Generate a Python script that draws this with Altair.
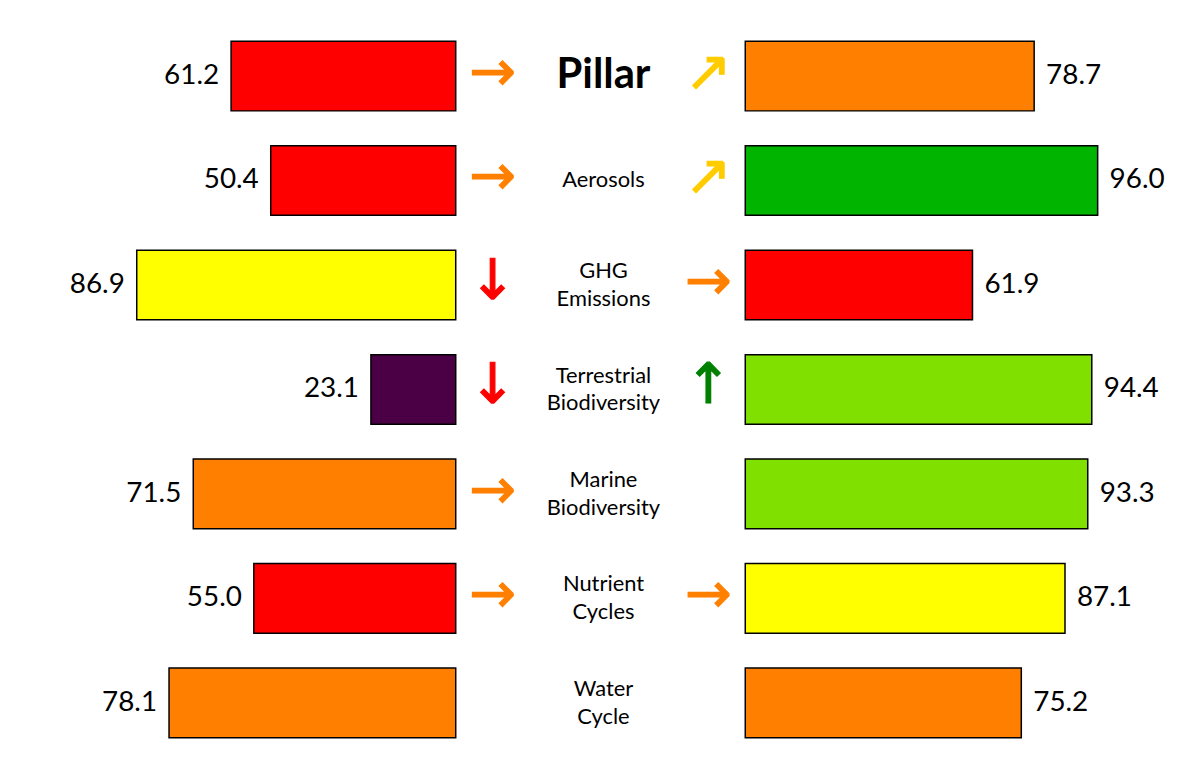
import altair as alt
import pandas as pd

categories = ["Pillar", "Aerosols", "GHG Emissions", "Terrestrial Biodiversity",
              "Marine Biodiversity", "Nutrient Cycles", "Water Cycle"]
display_labels = ["Pillar", "Aerosols", "GHG\nEmissions", "Terrestrial\nBiodiversity",
                  "Marine\nBiodiversity", "Nutrient\nCycles", "Water\nCycle"]

left_values = [61.2, 50.4, 86.9, 23.1, 71.5, 55.0, 78.1]
left_colors = ["#FF0000", "#FF0000", "#FFFF00", "#4B0046", "#FF8000", "#FF0000", "#FF8000"]
right_values = [78.7, 96.0, 61.9, 94.4, 93.3, 87.1, 75.2]
right_colors = ["#FF8000", "#00B400", "#FF0000", "#80E000", "#80E000", "#FFFF00", "#FF8000"]

left_arrows = ["→", "→", "↓", "↓", "→", "→", ""]
left_arrow_colors = ["#FF8000", "#FF8000", "#FF0000", "#FF0000", "#FF8000", "#FF8000", "#FF8000"]
right_arrows = ["↗", "↗", "→", "↑", "", "→", ""]
right_arrow_colors = ["#FFCC00", "#FFCC00", "#FF8000", "#008000", "#FF8000", "#FF8000", "#FF8000"]

FONT = "Lato"
XMAX = 121.7
PANEL_W = 449
CENTER_W = 289
H = 735

left_df = pd.DataFrame({"cat": categories, "value": left_values, "color": left_colors})
right_df = pd.DataFrame({"cat": categories, "value": right_values, "color": right_colors})

band_y = alt.Y("cat:N", sort=categories, axis=None,
               scale=alt.Scale(type="band", paddingInner=1/3, paddingOuter=1/6))


def bar_panel(df, reverse):
    x = alt.X("value:Q", axis=None, scale=alt.Scale(domain=[0, XMAX], reverse=reverse, nice=False, zero=True))
    bars = alt.Chart(df).mark_bar(stroke="black", strokeWidth=1.5).encode(
        x=x, y=band_y, color=alt.Color("color:N", scale=None))
    labels = alt.Chart(df).mark_text(
        align="right" if reverse else "left", baseline="middle",
        dx=-12 if reverse else 12, fontSize=28, font=FONT, color="black").encode(
        x=x, y=band_y, text=alt.Text("value:Q", format=".1f"))
    return alt.layer(bars, labels).properties(width=PANEL_W, height=H)


left = bar_panel(left_df, True)
right = bar_panel(right_df, False)

slots = ["left", "label", "right"]
x_center = alt.X("slot:N", axis=None, scale=alt.Scale(type="point", domain=slots, padding=1/3))
y_center = alt.Y("cat:N", sort=categories, axis=None, scale=alt.Scale(type="point", padding=0.5))

label_df = pd.DataFrame({"cat": categories, "slot": "label", "label": display_labels})
title_lbl = alt.Chart(label_df.iloc[:1]).mark_text(
    fontSize=42, fontWeight="bold", font=FONT, color="black", baseline="middle", dy=-1, dx=3).encode(
    x=x_center, y=y_center, text="label:N")
single_lbl = alt.Chart(label_df.iloc[1:2]).mark_text(
    fontSize=22, font=FONT, color="black", baseline="middle", dx=3).encode(
    x=x_center, y=y_center, text="label:N")
multi_lbl = alt.Chart(label_df.iloc[2:]).mark_text(
    fontSize=22, font=FONT, color="black", baseline="middle", lineBreak="\n", lineHeight=28, dy=-14, dx=3).encode(
    x=x_center, y=y_center, text="label:N")

arrow_df = pd.DataFrame({
    "cat": categories * 2,
    "slot": ["left"] * 7 + ["right"] * 7,
    "arrow": left_arrows + right_arrows,
    "color": left_arrow_colors + right_arrow_colors,
})
arrow_df = arrow_df[arrow_df["arrow"] != ""]
arrows = alt.Chart(arrow_df).mark_text(
    fontSize=56, font="DejaVu Sans", baseline="middle", dy=-3,
    stroke=None, strokeWidth=0).encode(
    x=x_center, y=y_center, text="arrow:N",
    color=alt.Color("color:N", scale=None),
    stroke=alt.Stroke("color:N", scale=None),
    strokeWidth=alt.value(1.2))

center = alt.layer(title_lbl, single_lbl, multi_lbl, arrows).properties(width=CENTER_W, height=H)

chart = alt.hconcat(left, center, right, spacing=0).properties(
    padding={"left": 1, "top": 14, "right": 0, "bottom": 0}
).configure_view(stroke=None).configure_concat(spacing=0)

chart.save("out.html", embed_options={"renderer": "svg", "actions": False})
